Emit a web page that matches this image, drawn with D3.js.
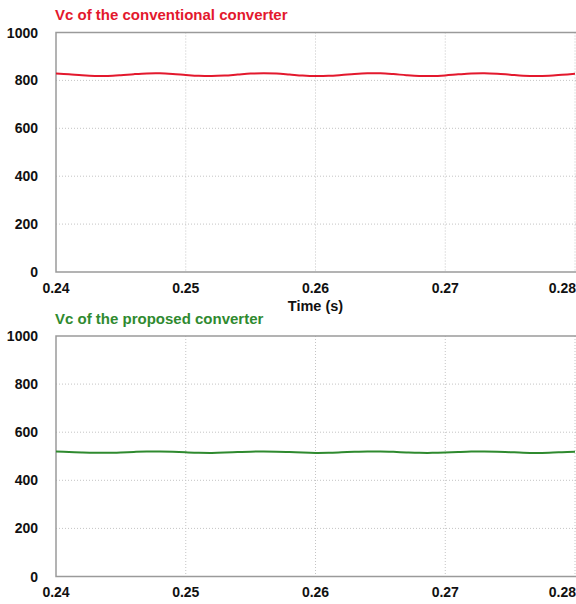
<!DOCTYPE html>
<html>
<head>
<meta charset="utf-8">
<script src="https://cdn.jsdelivr.net/npm/d3@7"></script>
<style>
  body { margin: 0; background: #fff; }
  svg text { font-family: Arial, "Liberation Sans", sans-serif; font-weight: bold; }
</style>
</head>
<body>
<svg id="chart" width="576" height="604"></svg>
<script>
// sample times (s)
const times = [0.240, 0.241, 0.242, 0.243, 0.244, 0.245, 0.246, 0.247, 0.248, 0.249,
               0.250, 0.251, 0.252, 0.253, 0.254, 0.255, 0.256, 0.257, 0.258, 0.259,
               0.260, 0.261, 0.262, 0.263, 0.264, 0.265, 0.266, 0.267, 0.268, 0.269,
               0.270, 0.271, 0.272, 0.273, 0.274, 0.275, 0.276, 0.277, 0.278, 0.279, 0.280];

// Vc of the conventional converter (V)
const vcConventional = [829.0, 825.5, 821.1, 818.3, 818.5, 821.7, 826.1, 829.3, 829.8, 827.1,
                        822.8, 819.1, 818.0, 820.2, 824.3, 828.3, 830.0, 828.5, 824.6, 820.4,
                        818.1, 819.0, 822.5, 826.9, 829.7, 829.5, 826.3, 821.9, 818.7, 818.2,
                        820.9, 825.2, 828.9, 830.0, 827.8, 823.7, 819.7, 818.0, 819.5, 823.4, 827.6];

// Vc of the proposed converter (V)
const vcProposed = [519.5, 517.7, 515.6, 514.2, 514.3, 515.8, 518.0, 519.7, 519.9, 518.6,
                    516.4, 514.6, 514.0, 515.1, 517.2, 519.2, 520.0, 519.2, 517.3, 515.2,
                    514.0, 514.5, 516.3, 518.4, 519.8, 519.7, 518.2, 516.0, 514.3, 514.1,
                    515.4, 517.6, 519.4, 520.0, 518.9, 516.8, 514.8, 514.0, 514.8, 516.7, 518.8];

const xTicks = [0.24, 0.25, 0.26, 0.27, 0.28];
const yTicks = [0, 200, 400, 600, 800, 1000];

const svg = d3.select("#chart");
const W = 576;

const x = d3.scaleLinear().domain([0.24, 0.28]).range([56, 575]);

const panels = [
    { title: "Vc of the conventional converter", color: "#e3182d", values: vcConventional,
      top: 32.5, bottom: 272, titleY: 15, tickY: 288, xLabel: "Time (s)" },
    { title: "Vc of the proposed converter", color: "#2f8a2f", values: vcProposed,
      top: 336, bottom: 576.5, titleY: 319, tickY: 592, xLabel: null }
];

panels.forEach(p => {
    const y = d3.scaleLinear().domain([0, 1000]).range([p.bottom, p.top]);
    const g = svg.append("g");

    // dotted grid
    g.selectAll(".hgrid")
        .data(yTicks.filter(d => d > 0 && d < 1000))
        .enter().append("line")
        .attr("x1", x(0.24)).attr("x2", 580)
        .attr("y1", d => y(d)).attr("y2", d => y(d))
        .attr("stroke", "#c4c4c4")
        .attr("stroke-width", 1)
        .attr("stroke-dasharray", "1,2");

    g.selectAll(".vgrid")
        .data(xTicks.slice(1))
        .enter().append("line")
        .attr("x1", d => x(d)).attr("x2", d => x(d))
        .attr("y1", p.top).attr("y2", p.bottom)
        .attr("stroke", "#c4c4c4")
        .attr("stroke-width", 1)
        .attr("stroke-dasharray", "1,2");

    // frame (left, top, bottom)
    g.append("path")
        .attr("d", `M580,${p.top}H${x(0.24)}V${p.bottom}H580`)
        .attr("fill", "none")
        .attr("stroke", "#9a9a9a")
        .attr("stroke-width", 1.5);

    // y tick labels
    g.selectAll(".ylab")
        .data(yTicks)
        .enter().append("text")
        .attr("x", 38)
        .attr("y", d => y(d))
        .attr("dy", "0.36em")
        .attr("text-anchor", "end")
        .style("font-size", "14px")
        .attr("fill", "#111")
        .text(d => d);

    // x tick labels (last one kept inside the picture edge)
    g.selectAll(".xlab")
        .data(xTicks)
        .enter().append("text")
        .attr("x", (d, i) => i === xTicks.length - 1 ? W : x(d))
        .attr("y", p.tickY)
        .attr("dy", "0.36em")
        .attr("text-anchor", (d, i) => i === xTicks.length - 1 ? "end" : "middle")
        .style("font-size", "14px")
        .attr("fill", "#111")
        .text(d => d.toFixed(2));

    if (p.xLabel) {
        g.append("text")
            .attr("x", x(0.26))
            .attr("y", 306)
            .attr("dy", "0.36em")
            .attr("text-anchor", "middle")
            .style("font-size", "14.5px")
            .attr("fill", "#111")
            .text(p.xLabel);
    }

    // title
    g.append("text")
        .attr("x", 55)
        .attr("y", p.titleY)
        .attr("dy", "0.36em")
        .style("font-size", "15px")
        .attr("fill", p.color)
        .text(p.title);

    // waveform
    const line = d3.line()
        .x((d, i) => x(times[i]))
        .y(d => y(d))
        .curve(d3.curveCatmullRom);

    g.append("path")
        .datum(p.values)
        .attr("d", line)
        .attr("fill", "none")
        .attr("stroke", p.color)
        .attr("stroke-width", 2);
});
</script>
</body>
</html>
